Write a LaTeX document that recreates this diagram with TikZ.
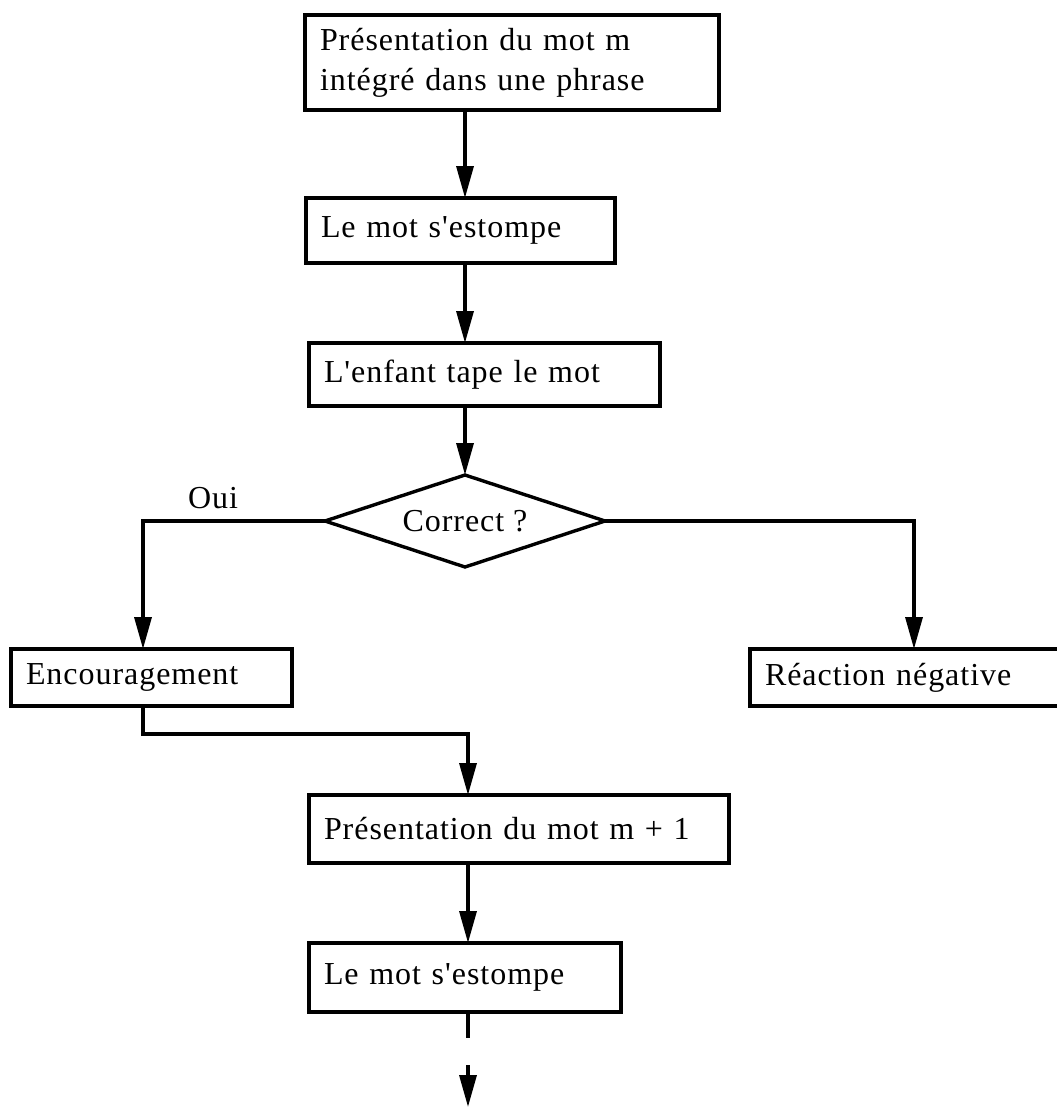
\documentclass[tikz,border=0pt]{standalone}
\usepackage{fontspec}
\setmainfont{Liberation Serif}[Ligatures=TeXOff,LetterSpace=3]
\usetikzlibrary{arrows.meta,shapes.geometric}
\begin{document}
\begin{tikzpicture}[x=1pt,y=-1pt,
  lw/.style={line width=3.4pt},
  txt/.style={font=\fontsize{32}{40}\selectfont},
  stepbox/.style={draw,lw,txt,rectangle,anchor=north west,inner xsep=15pt,inner ysep=2pt,outer sep=0pt,align=left},
  decision/.style={draw,lw,txt,diamond,shape aspect=3.04,minimum width=280pt,minimum height=92pt,inner sep=0pt,outer sep=0pt},
  conn/.style={lw},
  arr/.style={lw,-{Triangle[length=32pt,width=17pt]}}]
\useasboundingbox (0,0) rectangle (1057,1108);
% nodes
\node[stepbox,text width=384pt,minimum height=95pt] (b1) at (305,15) {Présentation du mot m\\intégré dans une phrase};
\node[stepbox,text width=279pt,minimum height=65pt] (b2) at (306,198) {Le mot s'estompe};
\node[stepbox,text width=321pt,minimum height=63pt] (b3) at (309,343) {L'enfant tape le mot};
\node[decision] (d) at (465,521) {Correct ?};
\node[stepbox,text width=251pt,minimum height=57pt] (enc) at (11,649) {Encouragement};
\node[stepbox,text width=290pt,minimum height=57pt] (rn) at (750,649) {Réaction négative};
\node[stepbox,text width=390pt,minimum height=68pt] (b4) at (309,795) {Présentation du mot m + 1};
\node[stepbox,text width=282pt,minimum height=69pt] (b5) at (309,943) {Le mot s'estompe};
\node[txt,anchor=base,inner sep=0pt] (oui) at (213,508) {Oui};
% helper coordinates
\coordinate (lx) at (143,0);
\coordinate (rx) at (914,0);
\coordinate (cx) at (468,0);
\coordinate (jy) at (0,734);
\coordinate (s1) at (0,1038);
\coordinate (s2) at (0,1065);
\coordinate (s3) at (0,1107);
% connectors
\draw[arr] (b1.south -| d.north) -- (b2.north -| d.north);
\draw[arr] (b2.south -| d.north) -- (b3.north -| d.north);
\draw[arr] (b3.south -| d.north) -- (d.north);
\draw[arr] (d.west) -| (enc.north -| lx);
\draw[arr] (d.east) -| (rn.north -| rx);
\draw[arr] (enc.south -| lx) -- (lx |- jy) -| (b4.north -| cx);
\draw[arr] (b4.south -| cx) -- (b5.north -| cx);
\draw[conn] (b5.south -| cx) -- (cx |- s1);
\draw[arr] (cx |- s2) -- (cx |- s3);
\end{tikzpicture}
\end{document}
